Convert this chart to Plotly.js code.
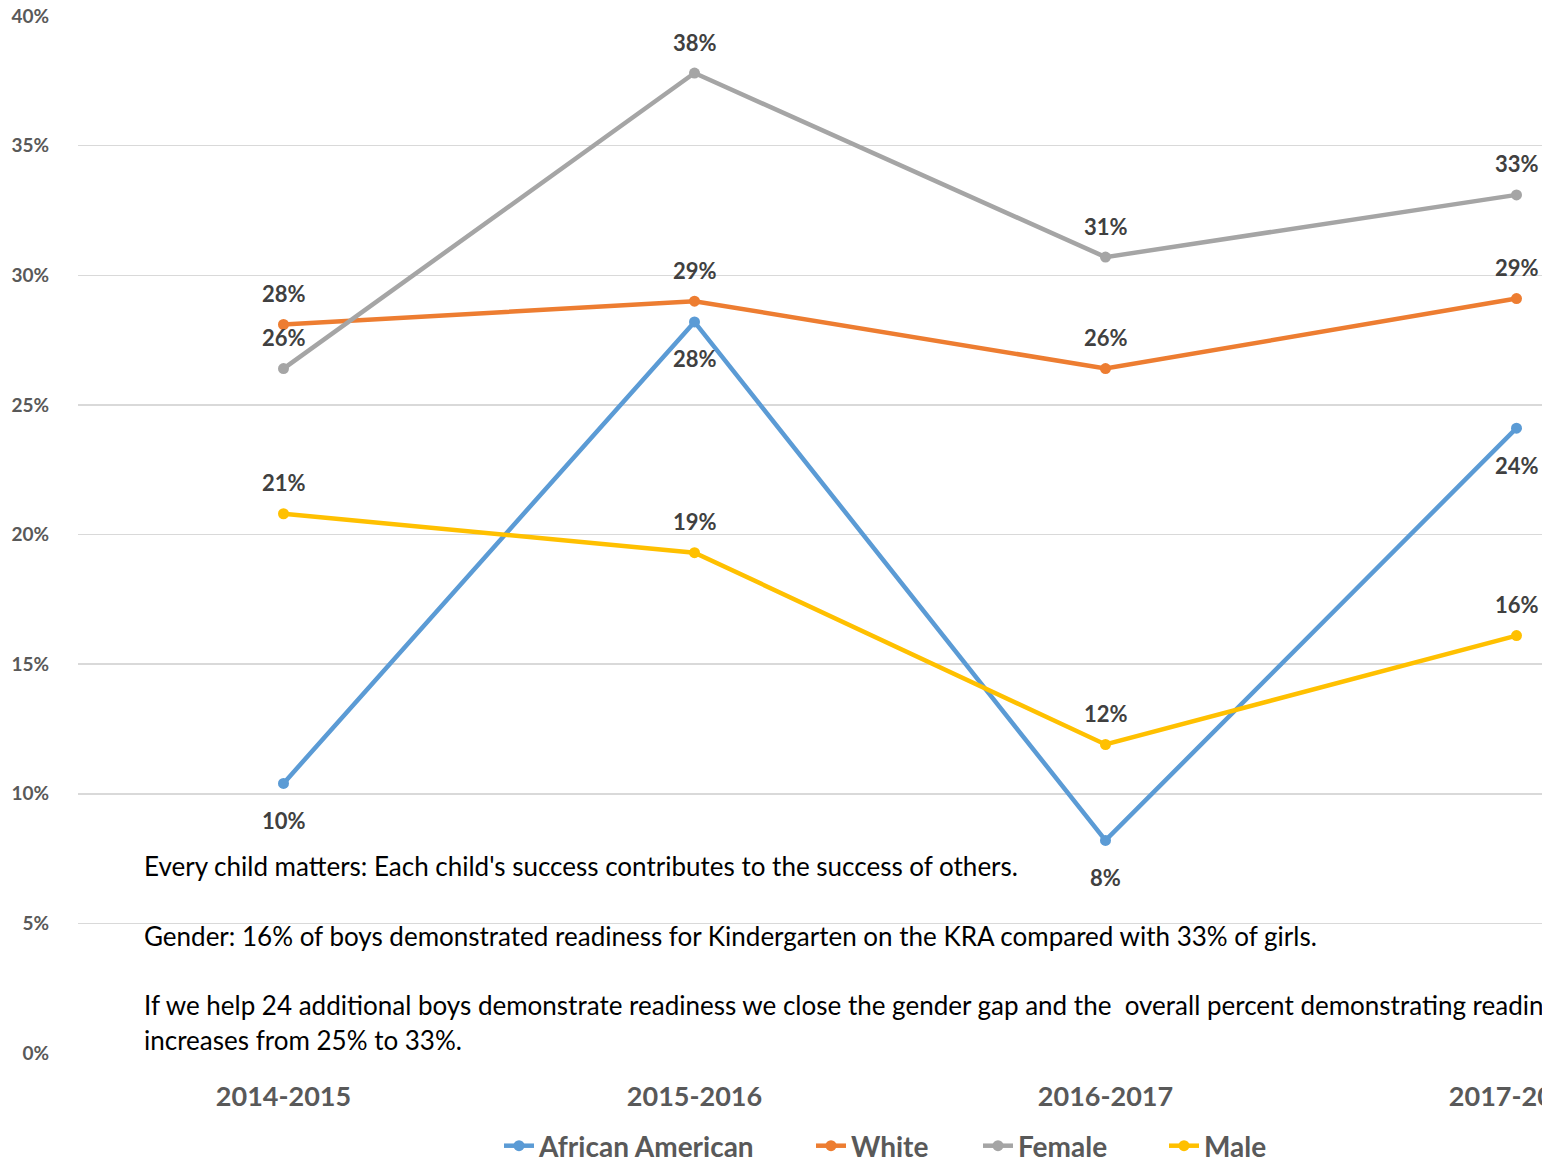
<!DOCTYPE html>
<html>
<head>
<meta charset="utf-8">
<script src="https://cdn.plot.ly/plotly-3.0.1.min.js"></script>
<style>
html,body{margin:0;padding:0;overflow:hidden;background:#fff;width:1542px;height:1166px;}
#chart{width:1750px;height:1166px;}
</style>
</head>
<body>
<div id="chart"></div>
<script>
const years = ["2014-2015", "2015-2016", "2016-2017", "2017-2018"];
const africanAmerican = [10.4, 28.2, 8.2, 24.1];
const white = [28.1, 29.0, 26.4, 29.1];
const female = [26.4, 37.8, 30.7, 33.1];
const male = [20.8, 19.3, 11.9, 16.1];
const seriesNames = ["African American", "White", "Female", "Male"];
const seriesColors = ["#5B9BD5", "#ED7D31", "#A5A5A5", "#FFC000"];
const labelBelow = [true, false, false, false];
const notes = [
  {text: "Every child matters: Each child's success contributes to the success of others.", y: 7.2},
  {text: "Gender: 16% of boys demonstrated readiness for Kindergarten on the KRA compared with 33% of girls.", y: 4.5},
  {text: "If we help 24 additional boys demonstrate readiness we close the gender gap and the  overall percent demonstrating readiness", y: 1.85},
  {text: "increases from 25% to 33%.", y: 0.5}
];

const W = 1750;
const legendLeft = [499, 811, 978, 1164];
const legendIds = ["legend", "legend2", "legend3", "legend4"];

const allSeries = [africanAmerican, white, female, male];
const traces = allSeries.map((vals, i) => ({
  x: years, y: vals, name: seriesNames[i], type: "scatter", mode: "lines+markers",
  line: {color: seriesColors[i], width: 4.5},
  marker: {color: seriesColors[i], size: 11},
  legend: legendIds[i],
  hoverinfo: "skip"
}));

const annotations = [];
allSeries.forEach((vals, i) => {
  vals.forEach((v, j) => {
    annotations.push({
      x: years[j], y: v, xref: "x", yref: "y",
      text: Math.round(v) + "%", showarrow: false,
      yshift: labelBelow[i] ? -37 : 31,
      font: {family: "Lato, sans-serif", size: 22, color: "#404040", weight: "bold"}
    });
  });
});
notes.forEach(n => {
  annotations.push({
    xref: "paper", yref: "y", x: 0.0389, y: n.y, xanchor: "left", yanchor: "middle",
    text: n.text, showarrow: false, align: "left",
    font: {family: "Lato, sans-serif", size: 26, color: "#000000"}
  });
});

const layout = {
  width: W, height: 1166,
  margin: {l: 78, r: 28, t: 16, b: 113, autoexpand: false},
  paper_bgcolor: "#ffffff", plot_bgcolor: "#ffffff",
  showlegend: true,
  xaxis: {
    type: "category", range: [-0.5, 3.5], showgrid: false, zeroline: false, showline: false,
    ticks: "", tickfont: {family: "Lato, sans-serif", size: 27, color: "#595959", weight: "bold"},
    ticklabelstandoff: 25, automargin: false
  },
  yaxis: {
    range: [0, 40], dtick: 5, ticksuffix: "%", showgrid: true, gridcolor: "#D9D9D9", gridwidth: 1.5,
    zeroline: false, showline: false, ticks: "",
    tickfont: {family: "Lato, sans-serif", size: 19, color: "#595959", weight: "bold"},
    ticklabelstandoff: 28, automargin: false
  },
  annotations: annotations
};
legendIds.forEach((id, i) => {
  layout[id] = {
    orientation: "h", xref: "container", yref: "container",
    x: legendLeft[i] / W, xanchor: "left", y: 1 - 1146 / 1166, yanchor: "middle",
    font: {family: "Lato, sans-serif", size: 28, color: "#595959", weight: "bold"},
    bgcolor: "rgba(0,0,0,0)"
  };
});

Plotly.newPlot("chart", traces, layout, {displayModeBar: false, staticPlot: true});
</script>
</body>
</html>
